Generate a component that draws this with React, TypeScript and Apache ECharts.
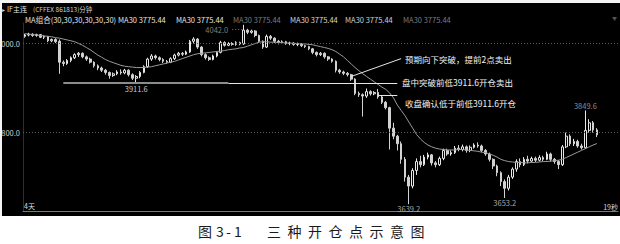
import React, { useEffect, useRef } from "react";
import * as echarts from "echarts";

const FONT = '"Noto Sans CJK SC", "Noto Sans", sans-serif';

// minute slots on the time axis (the last few are still empty)
const SLOT_COUNT = 155;
const categories: string[] = Array.from({ length: SLOT_COUNT }, (_, i) => String(i + 1));

// [open, close, low, high]
const candles: number[][] = [
  [4016, 4019, 4013, 4022], [4019, 4021, 4016, 4024], [4021, 4018, 4015, 4023], [4018, 4020, 4015, 4022],
  [4020, 4014, 4012, 4021], [4014, 4016, 4010, 4018], [4016, 4006, 4003, 4017], [4006, 4009, 4003, 4011],
  [4009, 4004, 4001, 4012], [4005, 3958, 3932, 4009], [3958, 3955, 3949, 3962], [3955, 3962, 3952, 3965],
  [3962, 3968, 3958, 3971], [3968, 3975, 3965, 3978], [3975, 3978, 3970, 3981], [3978, 3970, 3967, 3980],
  [3970, 3965, 3961, 3973], [3965, 3958, 3955, 3968], [3958, 3950, 3946, 3960], [3950, 3945, 3940, 3953],
  [3945, 3940, 3936, 3948], [3940, 3935, 3930, 3943], [3935, 3928, 3921, 3937], [3928, 3932, 3925, 3935],
  [3932, 3936, 3929, 3940], [3936, 3934, 3930, 3942], [3934, 3940, 3931, 3943], [3940, 3930, 3926, 3942],
  [3930, 3922, 3918, 3933], [3922, 3926, 3911.6, 3929], [3926, 3935, 3922, 3938], [3935, 3948, 3933, 3951],
  [3948, 3965, 3945, 3968], [3965, 3972, 3961, 3976], [3972, 3968, 3964, 3975], [3968, 3964, 3960, 3971],
  [3964, 3960, 3956, 3967], [3960, 3958, 3955, 3963], [3958, 3966, 3956, 3969], [3966, 3974, 3963, 3977],
  [3974, 3978, 3971, 3981], [3978, 3976, 3972, 3981], [3976, 3981, 3974, 3984], [3981, 4005, 3979, 4008],
  [4005, 4010, 4000, 4014], [4010, 3992, 3988, 4012], [3992, 3975, 3971, 3994], [3975, 3968, 3964, 3978],
  [3968, 3964, 3961, 3971], [3964, 3972, 3962, 3975], [3972, 3980, 3969, 3983], [3980, 4002, 3978, 4006],
  [4002, 3996, 3993, 4005], [3996, 4000, 3994, 4003], [4000, 3998, 3995, 4003], [3998, 4002, 3995, 4005],
  [4002, 3999, 3996, 4004], [3999, 4030, 3997, 4042.0], [4030, 4025, 4021, 4033], [4025, 4028, 4022, 4031],
  [4028, 4018, 4014, 4030], [4018, 4005, 4002, 4020], [4005, 3992, 3988, 4007], [3992, 4016, 3990, 4020],
  [4016, 4012, 4008, 4019], [4012, 4005, 4001, 4014], [4005, 4002, 3998, 4008], [4002, 4004, 3999, 4007],
  [4004, 4000, 3997, 4006], [4000, 4001, 3996, 4004], [4001, 3998, 3995, 4003], [3998, 3999, 3994, 4002],
  [3999, 3995, 3992, 4001], [3995, 3993, 3990, 3997], [3993, 3988, 3985, 3995], [3988, 3980, 3976, 3990],
  [3980, 3975, 3971, 3982], [3975, 3978, 3972, 3981], [3978, 3970, 3966, 3980], [3970, 3965, 3961, 3972],
  [3965, 3960, 3957, 3967], [3960, 3940, 3935, 3962], [3940, 3936, 3932, 3943], [3936, 3933, 3929, 3939],
  [3933, 3930, 3926, 3936], [3930, 3920, 3916, 3932], [3920, 3888, 3884, 3922], [3888, 3885, 3880, 3892],
  [3885, 3882, 3836, 3888], [3882, 3892, 3878, 3899], [3892, 3887, 3883, 3895], [3887, 3890, 3884, 3893],
  [3890, 3880, 3876, 3898], [3880, 3868, 3864, 3883], [3868, 3856, 3852, 3871], [3856, 3810, 3762, 3858],
  [3810, 3792, 3785, 3822], [3792, 3775, 3760, 3795], [3775, 3740, 3730, 3780], [3740, 3700, 3690, 3745],
  [3700, 3680, 3639.2, 3705], [3680, 3715, 3675, 3720], [3715, 3735, 3705, 3742], [3735, 3728, 3722, 3748],
  [3728, 3745, 3725, 3750], [3745, 3750, 3740, 3755], [3750, 3732, 3726, 3752], [3732, 3728, 3722, 3736],
  [3728, 3742, 3725, 3746], [3742, 3760, 3738, 3764], [3760, 3752, 3748, 3764], [3752, 3755, 3748, 3760],
  [3755, 3765, 3752, 3770], [3765, 3762, 3758, 3772], [3762, 3768, 3758, 3773], [3768, 3760, 3755, 3771],
  [3760, 3767, 3756, 3771], [3767, 3772, 3764, 3776], [3772, 3770, 3766, 3778], [3770, 3760, 3756, 3773],
  [3760, 3752, 3748, 3763], [3752, 3740, 3735, 3755], [3740, 3725, 3718, 3742], [3725, 3710, 3702, 3728],
  [3710, 3690, 3680, 3713], [3690, 3675, 3653.2, 3695], [3675, 3700, 3670, 3705], [3700, 3718, 3696, 3722],
  [3718, 3735, 3712, 3740], [3735, 3728, 3722, 3742], [3728, 3740, 3725, 3745], [3740, 3736, 3731, 3748],
  [3736, 3742, 3733, 3746], [3742, 3738, 3734, 3746], [3738, 3744, 3735, 3749], [3744, 3740, 3736, 3748],
  [3740, 3752, 3738, 3757], [3752, 3740, 3735, 3755], [3740, 3735, 3730, 3743], [3735, 3728, 3718, 3738],
  [3728, 3768, 3725, 3772], [3768, 3792, 3765, 3800], [3792, 3775, 3770, 3796], [3775, 3780, 3770, 3786],
  [3780, 3770, 3766, 3784], [3770, 3766, 3762, 3775], [3766, 3805, 3764, 3849.6], [3805, 3822, 3800, 3830],
  [3822, 3806, 3800, 3826], [3806, 3795, 3790, 3810],
];

// 30-period moving average of the closes
const ma30: number[] = [
  4022, 4021, 4020, 4019, 4018, 4017, 4016, 4015, 4013, 4012,
  4010, 4008, 4006, 4004, 4000, 3996, 3991, 3986, 3980, 3974,
  3969, 3964, 3960, 3957, 3954, 3951, 3949, 3948, 3947, 3946,
  3946, 3946, 3947, 3948, 3950, 3952, 3954, 3956, 3958, 3960,
  3963, 3966, 3969, 3972, 3975, 3977, 3978, 3979, 3980, 3981,
  3982, 3983, 3984, 3986, 3987, 3988, 3990, 3991, 3994, 3997,
  4000, 4003, 4004, 4004, 4003, 4003, 4002, 4002, 4001, 4001,
  4000, 4000, 3999, 3999, 3998, 3997, 3995, 3993, 3991, 3989,
  3986, 3982, 3976, 3970, 3962, 3954, 3946, 3939, 3932, 3926,
  3920, 3914, 3908, 3902, 3897, 3889, 3878, 3862, 3850, 3838,
  3824, 3810, 3796, 3786, 3778, 3772, 3768, 3765, 3763, 3762,
  3761, 3761, 3761, 3762, 3762, 3761, 3760, 3759, 3758, 3756,
  3755, 3752, 3749, 3745, 3740, 3737, 3735, 3734, 3733, 3733,
  3732, 3732, 3733, 3733, 3734, 3735, 3735, 3736, 3737, 3738,
  3740, 3744, 3748, 3752, 3756, 3760, 3764, 3768, 3772, 3775.44,
];

const gridValues = [4000, 3800];
const priorLow = 3911.6;
const maGroupTitle = "MA组合(30,30,30,30,30,30)";
const maLegendTexts = ["MA30 3775.44", "MA30 3775.44", "MA30 3775.44", "MA30 3775.44", "MA30 3775.44", "MA30 3775.44"];
const maLegendColors = ["#e4e4e4", "#e4e4e4", "#7c7c7c", "#d6d6d6", "#cfcfcf", "#7c7c7c"];
const maLegendX = [118, 176, 233, 290, 345, 403];
const noteTexts = ["预期向下突破，提前2点卖出", "盘中突破前低3911.6开仓卖出", "收盘确认低于前低3911.6开仓"];
const captionLead = ["图", "3", "-", "1"];
const captionLeadX = [198, 216, 226, 234];
const captionTitle = "三种开仓点示意图";

function txt(x: number, y: number, text: string, size: number, fill: string, align = "left", z = 110) {
  return {
    type: "text",
    z,
    silent: true,
    style: {
      x,
      y,
      text,
      fill,
      fontSize: size,
      fontFamily: FONT,
      textAlign: align,
      textVerticalAlign: "middle",
      align,
      verticalAlign: "middle",
    },
  };
}

export default function App() {
  const ref = useRef<HTMLDivElement>(null);

  useEffect(() => {
    if (!ref.current) return;
    const chart = echarts.init(ref.current, null, { renderer: "svg" });

    const seg = (i0: number, v0: number, i1: number, v1: number, lineStyle: any) => [
      { coord: [categories[i0], v0], lineStyle, label: { show: false } },
      { coord: [categories[i1], v1] },
    ];

    const graphics: any[] = [
      // frame outside the black trading window
      { type: "rect", z: 100, silent: true, shape: { x: 0, y: 0, width: 620, height: 3 }, style: { fill: "#f4f4f4" } },
      { type: "rect", z: 100, silent: true, shape: { x: 0, y: 0, width: 2, height: 216 }, style: { fill: "#f4f4f4" } },
      { type: "rect", z: 100, silent: true, shape: { x: 0, y: 216, width: 620, height: 28 }, style: { fill: "#ffffff" } },
      // header
      txt(2, 9, "▸", 6, "#cfcfcf"),
      txt(7, 9, "IF主连", 7, "#e0e0e0"),
      txt(33, 9, "(CFFEX 861813)分钟", 6.5, "#d0d0d0"),
      txt(25, 19, maGroupTitle, 7.5, "#e4e4e4"),
      ...maLegendTexts.map((t, k) => txt(maLegendX[k], 19, t, 7.5, maLegendColors[k])),
      txt(617, 17, "▼", 5, "#555555", "right"),
      // notes
      txt(405, 59, noteTexts[0], 8.5, "#f2f2f2"),
      txt(402, 82, noteTexts[1], 8.5, "#f2f2f2"),
      txt(405, 103, noteTexts[2], 8.5, "#f2f2f2"),
      // bottom corner marks
      txt(24, 206, "4天", 7, "#dcdcdc"),
      txt(618, 207, "19秒", 7, "#dcdcdc", "right"),
      // caption
      ...captionLead.map((c, k) => txt(captionLeadX[k], 231, c, 14, "#1a1a1a")),
      ...captionTitle.split("").map((c, k) => txt(267 + k * 20.5, 231, c, 14, "#1a1a1a")),
    ];

    chart.setOption({
      animation: false,
      backgroundColor: "#000000",
      textStyle: { fontFamily: FONT },
      grid: { left: 23, right: 2, top: 23, bottom: 33 },
      xAxis: {
        type: "category",
        data: categories,
        boundaryGap: true,
        axisLine: { show: true, lineStyle: { color: "#7a7a7a", width: 1 } },
        axisTick: { show: false },
        axisLabel: { show: false },
        splitLine: { show: false },
      },
      yAxis: {
        type: "value",
        min: 3624,
        max: 4046,
        axisLine: { show: true, lineStyle: { color: "#2e2e2e", width: 1 } },
        axisTick: { show: false },
        axisLabel: { show: false },
        splitLine: { show: false },
      },
      graphic: graphics,
      series: [
        {
          type: "candlestick",
          data: candles,
          barWidth: 2.2,
          z: 2,
          itemStyle: {
            color: "#000000",
            color0: "#d2d2d2",
            borderColor: "#e8e8e8",
            borderColor0: "#d2d2d2",
            borderWidth: 1,
          },
          markPoint: {
            symbol: "circle",
            symbolSize: 1,
            silent: true,
            itemStyle: { color: "rgba(0,0,0,0)" },
            label: { show: true, fontSize: 7.5, fontFamily: FONT, color: "#a8a8a8" },
            data: [
              { coord: [categories[29], priorLow], value: priorLow, label: { position: "bottom", distance: 1, color: "#c8c8c8", formatter: "3911.6" } },
              { coord: [categories[57], 4042.0], value: 4042.0, label: { position: "left", distance: 15, offset: [0, 5], color: "#7e7e7e", formatter: "4042.0" } },
              { coord: [categories[100], 3639.2], value: 3639.2, label: { position: "bottom", distance: 0, formatter: "3639.2" } },
              { coord: [categories[125], 3653.2], value: 3653.2, label: { position: "bottom", distance: 0, formatter: "3653.2" } },
              { coord: [categories[146], 3849.6], value: 3849.6, label: { position: "top", distance: 1, color: "#8e8e8e", formatter: "3849.6" } },
            ],
          },
          markLine: {
            symbol: ["none", "none"],
            silent: true,
            label: { show: false },
            data: [
              ...gridValues.map((v) => ({
                yAxis: v,
                lineStyle: { type: [1, 2], color: "#5c5c5c", width: 1 },
                label: { show: true, position: "start", distance: 3, formatter: v.toFixed(1), color: "#d0d0d0", fontSize: 7.5, fontFamily: FONT },
              })),
              seg(10, priorLow, 53, priorLow, { type: "solid", color: "#8c8c8c", width: 2 }),
              seg(53, priorLow, 97, priorLow, { type: "solid", color: "#e6e6e6", width: 1 }),
              seg(85, 3926, 98, 3966, { type: "solid", color: "#e6e6e6", width: 1 }),
              seg(92, 3883, 97, 3883, { type: "solid", color: "#e6e6e6", width: 1 }),
              seg(54, 4033, 57, 4033, { type: [1, 2], color: "#777777", width: 1 }),
            ],
          },
        },
        {
          type: "line",
          data: ma30,
          symbol: "none",
          z: 3,
          silent: true,
          lineStyle: { color: "#9a9a9a", width: 1 },
        },
      ],
    });

    return () => chart.dispose();
  }, []);

  return <div ref={ref} style={{ position: "absolute", left: 0, top: 0, width: 620, height: 244 }} />;
}
